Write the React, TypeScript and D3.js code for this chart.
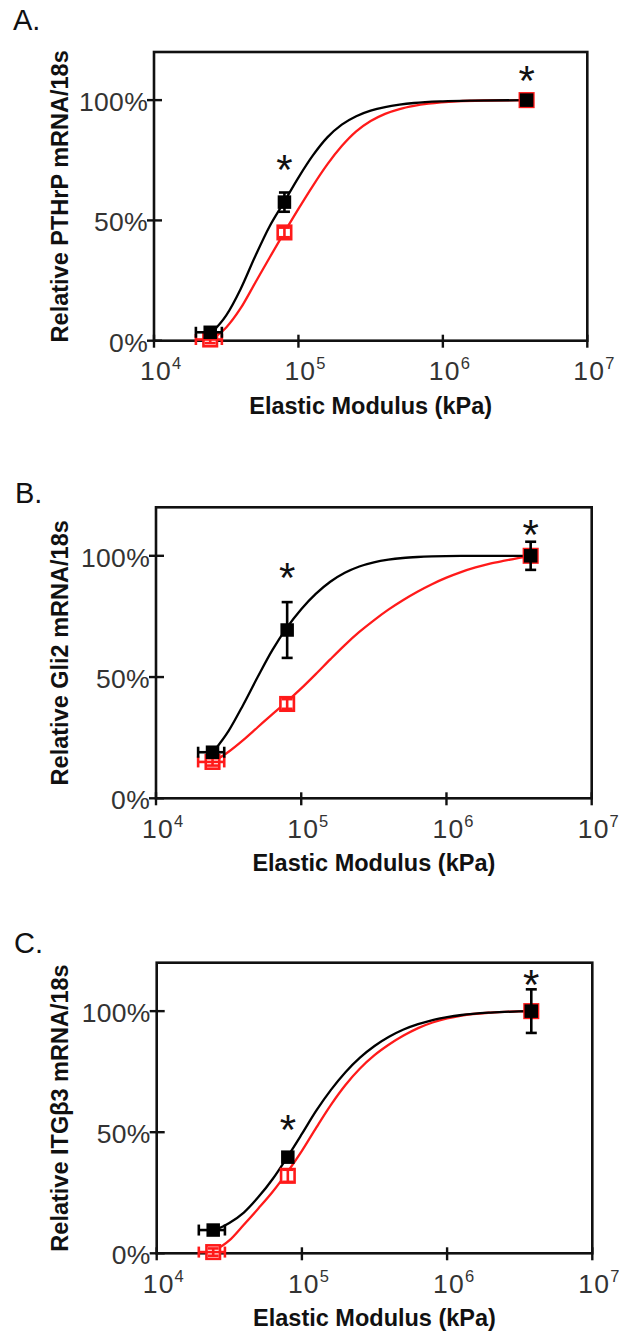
import React from "react";
import * as d3 from "d3";

// ---------- DATA ----------
const xValues = [24500, 80000, 3800000]; // Elastic modulus (kPa)
const xErr = [5000, 0, 0];
const xTickValues = [1e4, 1e5, 1e6, 1e7];
const xTickExponents = ["4", "5", "6", "7"];
const yTickValues = [0, 50, 100];
const yTickLabels = ["0%", "50%", "100%"];
const panelLabels = ["A.", "B.", "C."];
const yTitles = ["Relative PTHrP mRNA/18s", "Relative Gli2 mRNA/18s", "Relative ITGβ3 mRNA/18s"];
const xTitle = "Elastic Modulus (kPa)";

// Panel A – PTHrP  (fit curves: [log10 kPa, %])
const pthrpBlack = [3.5, 57.6, 100];
const pthrpBlackErr = [1.2, 4, 2];
const pthrpRed = [0.5, 45, 100];
const pthrpRedErr = [1.5, 2, 1];
const pthrpStars = [75, 112];
const pthrpBlackFit: [number, number][] = [
  [4.4, 3.3], [4.5, 10.5], [4.6, 21.5], [4.7, 35.0], [4.8, 47.5], [4.9, 57.6],
  [5.0, 67.8], [5.1, 77.0], [5.2, 84.5], [5.3, 89.8], [5.4, 93.3], [5.5, 95.6],
  [5.6, 97.1], [5.7, 98.1], [5.8, 98.8], [6.0, 99.5], [6.2, 99.8], [6.58, 100],
];
const pthrpRedFit: [number, number][] = [
  [4.41, 1.0], [4.5, 5.5], [4.6, 13.5], [4.7, 24.0], [4.8, 34.5], [4.9, 44.8],
  [5.0, 54.8], [5.1, 64.4], [5.2, 73.3], [5.3, 80.9], [5.4, 87.0], [5.5, 91.3],
  [5.6, 94.3], [5.7, 96.3], [5.8, 97.6], [5.9, 98.5], [6.1, 99.5], [6.3, 99.85],
  [6.58, 100],
];

// Panel B – Gli2
const gli2Black = [19, 69.4, 100];
const gli2BlackErr = [1.5, 11.5, 5.8];
const gli2Red = [15, 38.9, 100];
const gli2RedErr = [1.5, 2, 1];
const gli2Stars = [95, 112.5];
const gli2BlackFit: [number, number][] = [
  [4.395, 19.2], [4.5, 27.8], [4.6, 38.5], [4.7, 50.0], [4.8, 61.0], [4.9, 70.3],
  [5.0, 78.0], [5.1, 84.3], [5.2, 89.3], [5.3, 93.0], [5.4, 95.6], [5.5, 97.3],
  [5.6, 98.4], [5.7, 99.1], [5.8, 99.5], [5.9, 99.75], [6.1, 99.95], [6.58, 100],
];
const gli2RedFit: [number, number][] = [
  [4.395, 15.1], [4.5, 19.2], [4.6, 24.0], [4.7, 29.3], [4.8, 34.6], [4.9, 39.8],
  [5.0, 45.3], [5.1, 51.2], [5.2, 57.3], [5.3, 63.2], [5.4, 68.6], [5.5, 73.4],
  [5.6, 77.8], [5.7, 81.7], [5.8, 85.2], [5.9, 88.3], [6.0, 91.0], [6.1, 93.3],
  [6.2, 95.2], [6.3, 96.8], [6.4, 98.0], [6.5, 99.1], [6.58, 100],
];

// Panel C – ITGβ3
const itgBlack = [9.6, 39.7, 100];
const itgBlackErr = [1.2, 1.5, 9];
const itgRed = [0.5, 32, 100];
const itgRedErr = [1.5, 2.5, 1];
const itgStars = [55, 115];
const itgBlackFit: [number, number][] = [
  [4.402, 9.6], [4.5, 12.5], [4.6, 16.8], [4.7, 23.2], [4.8, 30.8], [4.9, 39.8],
  [5.0, 49.3], [5.1, 59.0], [5.2, 67.5], [5.3, 74.8], [5.4, 80.8], [5.5, 85.6],
  [5.6, 89.4], [5.7, 92.4], [5.8, 94.6], [5.9, 96.3], [6.0, 97.5], [6.1, 98.4],
  [6.3, 99.4], [6.58, 100],
];
const itgRedFit: [number, number][] = [
  [4.39, 0.8], [4.5, 5.3], [4.6, 11.8], [4.7, 18.5], [4.8, 25.5], [4.9, 33.5],
  [5.0, 42.3], [5.1, 52.0], [5.2, 61.3], [5.3, 69.5], [5.4, 76.3], [5.5, 81.8],
  [5.6, 86.2], [5.7, 89.9], [5.8, 93.0], [5.9, 95.3], [6.0, 97.0], [6.1, 98.2],
  [6.3, 99.4], [6.58, 100],
];

// ---------- LAYOUT ----------
const W = 619;
const H = 1335;
const FONT = "'Liberation Sans', Arial, Helvetica, sans-serif";
const RED = "#ff1a1a";

const layouts = [
  { left: 154, right: 587.3, top: 52, bottom: 340.7, labelX: 13, labelY: 30 },
  { left: 156, right: 591.7, top: 507.3, bottom: 798.3, labelX: 15, labelY: 503 },
  { left: 156.7, right: 592.3, top: 962.7, bottom: 1253.3, labelX: 14, labelY: 953 },
];

const panels = [
  { black: pthrpBlack, blackErr: pthrpBlackErr, red: pthrpRed, redErr: pthrpRedErr, stars: pthrpStars, blackFit: pthrpBlackFit, redFit: pthrpRedFit },
  { black: gli2Black, blackErr: gli2BlackErr, red: gli2Red, redErr: gli2RedErr, stars: gli2Stars, blackFit: gli2BlackFit, redFit: gli2RedFit },
  { black: itgBlack, blackErr: itgBlackErr, red: itgRed, redErr: itgRedErr, stars: itgStars, blackFit: itgBlackFit, redFit: itgRedFit },
];

function ErrorBars({ x, y, values, errs, color }: any) {
  const cap = 5.5;
  return (
    <g stroke={color} strokeWidth={2.6} fill="none">
      {values.map((v: number, i: number) => {
        const cx = x(xValues[i]);
        const y1 = y(v - errs[i]);
        const y2 = y(v + errs[i]);
        const els = [
          <line key="v" x1={cx} x2={cx} y1={y1} y2={y2} />,
          <line key="c1" x1={cx - cap} x2={cx + cap} y1={y1} y2={y1} />,
          <line key="c2" x1={cx - cap} x2={cx + cap} y1={y2} y2={y2} />,
        ];
        if (xErr[i] > 0) {
          const cy = y(v);
          const x1 = x(xValues[i] - xErr[i]);
          const x2 = x(xValues[i] + xErr[i]);
          els.push(<line key="h" x1={x1} x2={x2} y1={cy} y2={cy} />);
          els.push(<line key="h1" x1={x1} x2={x1} y1={cy - cap} y2={cy + cap} />);
          els.push(<line key="h2" x1={x2} x2={x2} y1={cy - cap} y2={cy + cap} />);
        }
        return <g key={i}>{els}</g>;
      })}
    </g>
  );
}

function Panel({ idx }: { idx: number }) {
  const L = layouts[idx];
  const P = panels[idx];
  const x = d3.scaleLog().domain([1e4, 1e7]).range([L.left, L.right]);
  const y = d3.scaleLinear().domain([0, 120]).range([L.bottom, L.top]);
  const line = d3
    .line<[number, number]>()
    .x((d) => x(Math.pow(10, d[0])))
    .y((d) => y(d[1]))
    .curve(d3.curveMonotoneX);
  const sq = 13.5;
  const starSize = 42;
  const tick = 7;
  return (
    <g>
      <text x={L.labelX} y={L.labelY} fontFamily={FONT} fontSize={29} fill="#111">
        {panelLabels[idx]}
      </text>
      {/* frame */}
      <rect x={L.left} y={L.top} width={L.right - L.left} height={L.bottom - L.top} fill="none" stroke="#111" strokeWidth={2.6} />
      {/* y ticks */}
      {yTickValues.map((v, i) => (
        <g key={"yt" + i}>
          <line x1={L.left - tick} x2={L.left + 8} y1={y(v)} y2={y(v)} stroke="#111" strokeWidth={2.4} />
          <text x={L.left - 6} y={y(v) + 11} textAnchor="end" fontFamily={FONT} fontSize={26.5} fill="#333" letterSpacing={0.3}>
            {yTickLabels[i]}
          </text>
        </g>
      ))}
      {/* x ticks */}
      {xTickValues.map((v, i) => (
        <g key={"xt" + i}>
          <line x1={x(v)} x2={x(v)} y1={L.bottom - 6} y2={L.bottom + 7} stroke="#111" strokeWidth={2.4} />
          <text x={x(v) - 14} y={L.bottom + 39.5} fontFamily={FONT} fontSize={26.5} fill="#333" letterSpacing={1.2}>
            <tspan>10</tspan>
            <tspan dy={-11} fontSize={16.5} letterSpacing={0}>{xTickExponents[i]}</tspan>
          </text>
        </g>
      ))}
      {/* axis titles */}
      <text
        x={(L.left + L.right) / 2}
        y={L.bottom + 73}
        textAnchor="middle"
        fontFamily={FONT}
        fontWeight="bold"
        fontSize={23.5}
        fill="#111"
      >
        {xTitle}
      </text>
      <text
        transform={`translate(68,${(L.top + L.bottom) / 2}) rotate(-90)`}
        textAnchor="middle"
        fontFamily={FONT}
        fontWeight="bold"
        fontSize={23.5}
        fill="#111"
      >
        {yTitles[idx]}
      </text>
      {/* fit curves */}
      <path d={line(P.redFit) || ""} fill="none" stroke={RED} strokeWidth={2.3} />
      <path d={line(P.blackFit) || ""} fill="none" stroke="#000" strokeWidth={2.3} />
      {/* red open squares */}
      {P.red.map((v, i) => (
        <rect key={"r" + i} x={x(xValues[i]) - sq / 2} y={y(v) - sq / 2} width={sq} height={sq} fill="#fff" stroke={RED} strokeWidth={2.6} />
      ))}
      <ErrorBars x={x} y={y} values={P.red} errs={P.redErr} color={RED} />
      <ErrorBars x={x} y={y} values={P.black} errs={P.blackErr} color="#000" />
      {P.black.map((v, i) => (
        <rect key={"b" + i} x={x(xValues[i]) - sq / 2} y={y(v) - sq / 2} width={sq} height={sq} fill="#000" />
      ))}
      {/* significance stars */}
      {P.stars.map((v, i) => (
        <text key={"s" + i} x={x(xValues[i + 1])} y={y(v) + 24} textAnchor="middle" fontFamily={FONT} fontSize={starSize} fill="#111">
          *
        </text>
      ))}
    </g>
  );
}

export default function App() {
  return (
    <svg
      width={W}
      height={H}
      viewBox={`0 0 ${W} ${H}`}
      style={{ position: "absolute", left: 0, top: 0, display: "block", background: "#fff" }}
    >
      <rect x={0} y={0} width={W} height={H} fill="#fff" />
      {[0, 1, 2].map((i) => (
        <Panel key={i} idx={i} />
      ))}
    </svg>
  );
}
